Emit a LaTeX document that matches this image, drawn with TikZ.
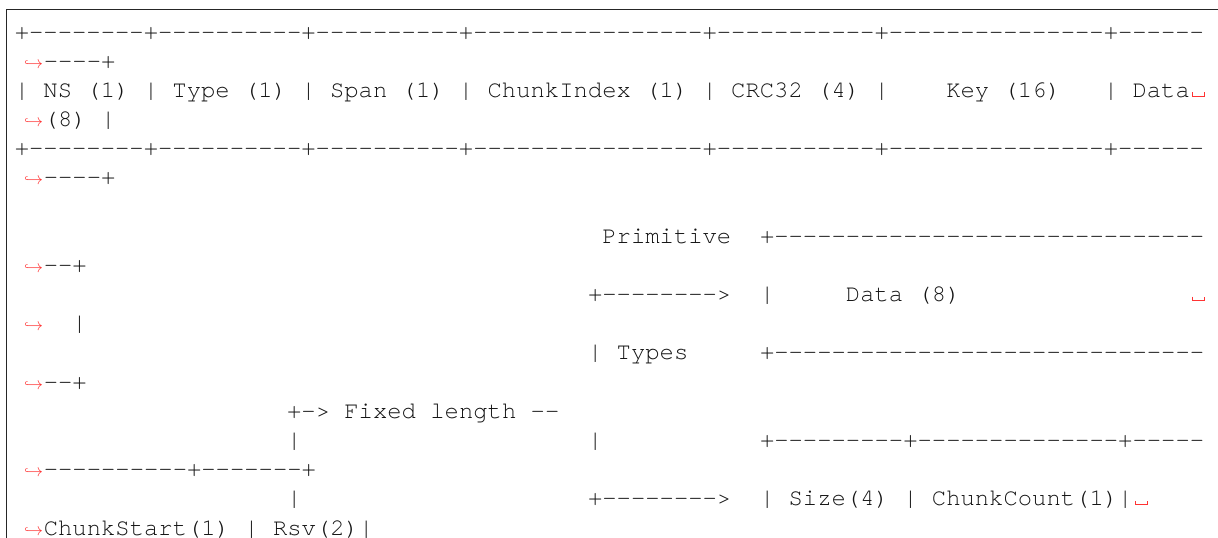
\documentclass[tikz,border=0pt]{standalone}
\usepackage{fontspec}
\setmonofont{TeX Gyre Cursor}
\newcommand\colx[1]{14.83+14.33*#1}
\newcommand\conx[1]{43.8+14.33*#1}
\newcommand\rowy[1]{39+29.18*#1}
\tikzset{
  code/.style={font=\fontsize{23.88}{23.88}\selectfont\ttfamily\frenchspacing, text=black!92, anchor=base west, inner sep=0pt, outer sep=0pt},
  hook/.style={font=\fontsize{17.28}{17.28}\selectfont, text=red!80!white, anchor=base east, inner sep=0pt, outer sep=0pt},
  vsp/.style={draw=red!80!white, line width=1.1pt},
  frame/.style={draw=black!85, line width=1.1pt}
}
\newcommand\visspace[2]{\draw[vsp] ({\colx{#1}+2.5},{\rowy{#2}-5}) -- ++(0,4) -- ++(12,0) -- ++(0,-4);}
\begin{document}
\begin{tikzpicture}[x=1pt,y=-1pt]
\useasboundingbox (0,0) rectangle (1218,538);
\draw[frame] (6.5,538) -- (6.5,9.7) -- (1218,9.7);
% continuation hooks
\foreach \r in {1,3,5,8,10,12,15,17}{
  \node[hook] (hk\r) at (43.2,{\rowy{\r}}) {$\hookrightarrow$};
}
% header table
\node[code] (r0) at ({\colx{0}},{\rowy{0}}) {+--------+----------+----------+----------------+-----------+---------------+------};
\node[code] (r1) at ({\conx{0}},{\rowy{1}}) {----+};
\node[code] (r2a) at ({\colx{0}},{\rowy{2}}) {| NS (1) | Type (1) | Span (1) | ChunkIndex (1) | CRC32 (4) |};
\node[code] (r2b) at ({\colx{65}},{\rowy{2}}) {Key (16)};
\node[code] (r2c) at ({\colx{76}},{\rowy{2}}) {| Data};
\visspace{82}{2}
\node[code] (r3) at ({\conx{0}},{\rowy{3}}) {(8) |};
\node[code] (r4) at ({\colx{0}},{\rowy{4}}) {+--------+----------+----------+----------------+-----------+---------------+------};
\node[code] (r5) at ({\conx{0}},{\rowy{5}}) {----+};
% primitive types
\node[code] (r7a) at ({\colx{41}},{\rowy{7}}) {Primitive};
\node[code] (r7b) at ({\colx{52}},{\rowy{7}}) {+------------------------------};
\node[code] (r8) at ({\conx{0}},{\rowy{8}}) {--+};
\node[code] (r9a) at ({\colx{40}},{\rowy{9}}) {+-------->};
\node[code] (r9b) at ({\colx{52}},{\rowy{9}}) {|};
\node[code] (r9c) at ({\colx{58}},{\rowy{9}}) {Data (8)};
\visspace{82}{9}
\node[code] (r10) at ({\conx{2}},{\rowy{10}}) {|};
\node[code] (r11a) at ({\colx{40}},{\rowy{11}}) {| Types};
\node[code] (r11b) at ({\colx{52}},{\rowy{11}}) {+------------------------------};
\node[code] (r12) at ({\conx{0}},{\rowy{12}}) {--+};
% fixed length
\node[code] (r13) at ({\colx{19}},{\rowy{13}}) {+-> Fixed length --};
\node[code] (r14a) at ({\colx{19}},{\rowy{14}}) {|};
\node[code] (r14b) at ({\colx{40}},{\rowy{14}}) {|};
\node[code] (r14c) at ({\colx{52}},{\rowy{14}}) {+---------+--------------+-----};
\node[code] (r15) at ({\conx{0}},{\rowy{15}}) {----------+-------+};
\node[code] (r16a) at ({\colx{19}},{\rowy{16}}) {|};
\node[code] (r16b) at ({\colx{40}},{\rowy{16}}) {+-------->};
\node[code] (r16c) at ({\colx{52}},{\rowy{16}}) {| Size(4) | ChunkCount(1)|};
\visspace{78}{16}
\node[code] (r17) at ({\conx{0}},{\rowy{17}}) {ChunkStart(1) | Rsv(2)|};
\end{tikzpicture}
\end{document}
